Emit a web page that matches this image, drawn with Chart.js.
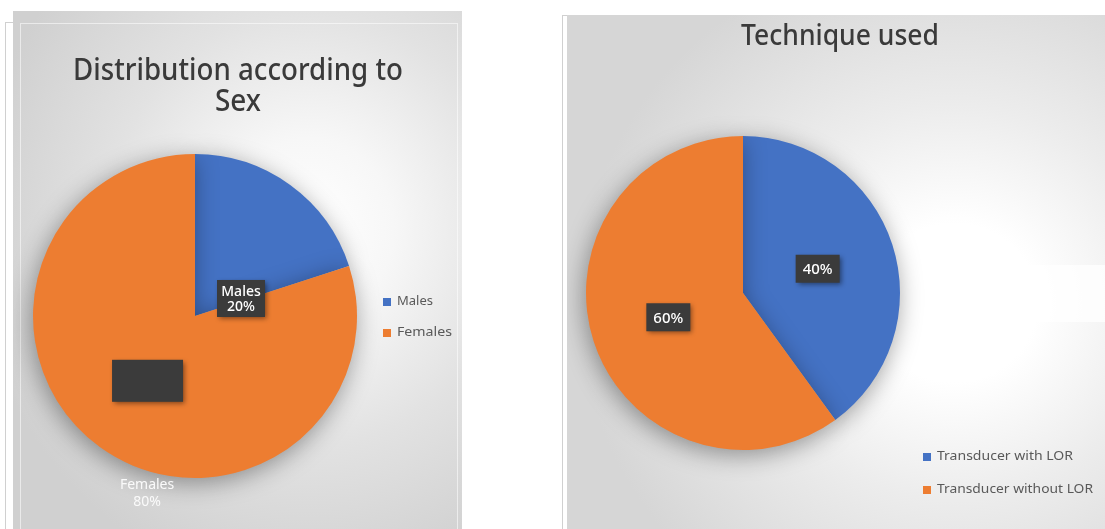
<!DOCTYPE html>
<html>
<head>
<meta charset="utf-8">
<script src="https://cdn.jsdelivr.net/npm/chart.js@4"></script>
<style>
  html, body { margin:0; padding:0; background:#ffffff; width:1105px; height:529px; overflow:hidden; }
  .panel { position:absolute; }
  #p1 { left:13px; top:11px; width:449px; height:518px;
        background: radial-gradient(ellipse 75% 70% at 66% 42%, #ffffff 0%, #f7f7f7 25%, #e2e2e2 60%, #d0d0d0 100%); }
  #p2 { left:567px; top:15px; width:538px; height:514px;
        background: radial-gradient(ellipse 70% 70% at 72% 56%, #ffffff 0%, #ffffff 22%, #ececec 55%, #d6d6d6 100%); }
  #band { position:absolute; left:918px; top:265px; width:187px; height:57px; background:rgba(255,255,255,0.75); }
  .line { position:absolute; background:#d0d0d0; }
  .inner { position:absolute; border:1px solid rgba(255,255,255,0.55); }
  canvas { position:absolute; }
</style>
</head>
<body>
<div class="line" style="left:5px;top:22px;width:1px;height:507px;"></div>
<div class="line" style="left:5px;top:22px;width:8px;height:1px;"></div>
<div class="line" style="left:562px;top:15px;width:1px;height:514px;"></div>
<div class="line" style="left:562px;top:15px;width:5px;height:1px;"></div>
<div class="panel" id="p1"></div>
<div class="inner" style="left:20px;top:23px;width:436px;height:510px;"></div>
<div class="panel" id="p2"></div>
<div id="band"></div>
<canvas id="c1" width="449" height="518" style="left:13px;top:11px;"></canvas>
<canvas id="c2" width="538" height="514" style="left:567px;top:15px;"></canvas>
<script>
// ---- data ----
const sexLabels = ['Males', 'Females'];
const sexValues = [20, 80];
const sexTitle = ['Distribution according to', 'Sex'];
const techLabels = ['Transducer with LOR', 'Transducer without LOR'];
const techValues = [40, 60];
const techTitle = ['Technique used'];
const sliceColors = ['#4472C4', '#ED7D31'];

function pct(values, i) {
  const t = values.reduce((a, b) => a + b, 0);
  return Math.round(values[i] / t * 100) + '%';
}

function fitText(ctx, text, cx, y, targetW, font, color) {
  ctx.save();
  ctx.font = font;
  ctx.fillStyle = color;
  ctx.textAlign = 'center';
  ctx.textBaseline = 'alphabetic';
  const w = ctx.measureText(text).width;
  ctx.translate(cx, y);
  if (targetW && w) ctx.scale(targetW / w, 1);
  ctx.fillText(text, 0, 0);
  ctx.restore();
}

function shadowBox(ctx, x, y, w, h) {
  ctx.save();
  ctx.shadowColor = 'rgba(0,0,0,0.45)';
  ctx.shadowBlur = 5;
  ctx.shadowOffsetX = 2;
  ctx.shadowOffsetY = 2;
  ctx.fillStyle = '#3b3b3b';
  ctx.fillRect(x, y, w, h);
  ctx.restore();
}

const shadowPlugin = {
  id: 'pieShadow',
  beforeDatasetsDraw(chart) {
    const ctx = chart.ctx;
    ctx.save();
    ctx.shadowColor = 'rgba(0,0,0,0.38)';
    ctx.shadowBlur = 24;
    ctx.shadowOffsetX = -2;
    ctx.shadowOffsetY = 5;
  },
  afterDatasetsDraw(chart) { chart.ctx.restore(); }
};

function legend(ctx, labels, x, y0, gap, targetWs) {
  labels.forEach((lab, i) => {
    const y = y0 + i * gap;
    ctx.save();
    ctx.fillStyle = sliceColors[i];
    ctx.fillRect(x, y - 7, 8, 8);
    ctx.font = '13px "Noto Sans"';
    ctx.fillStyle = '#595959';
    ctx.textAlign = 'left';
    const w = ctx.measureText(lab).width;
    ctx.translate(x + 14, y);
    ctx.scale(targetWs[i] / w, 1);
    ctx.fillText(lab, 0, 0);
    ctx.restore();
  });
}

// ---- left chart ----
const OX1 = 13, OY1 = 11;
const sexDecor = {
  id: 'sexDecor',
  afterDraw(chart) {
    const ctx = chart.ctx;
    const arc = chart.getDatasetMeta(0).data[0];
    const cx = arc.x, cy = arc.y, r = arc.outerRadius;
    ctx.save();
    ctx.translate(-OX1, -OY1);
    fitText(ctx, sexTitle[0], 238, 80, 330, '500 31px "Noto Sans"', '#3a3a3a');
    fitText(ctx, sexTitle[1], 238, 111, 46, '500 31px "Noto Sans"', '#3a3a3a');
    ctx.restore();
    // Males label box
    const mx = cx + r * 0.284, my = cy - r * 0.105;
    shadowBox(ctx, mx - 24, my - 19, 48, 37);
    ctx.save();
    ctx.font = '500 14px "Noto Sans"';
    ctx.fillStyle = '#ffffff';
    ctx.textAlign = 'center';
    ctx.fillText(sexLabels[0], mx, my - 3);
    ctx.fillText(pct(sexValues, 0), mx, my + 12);
    ctx.restore();
    // empty dark box on Females slice
    const fx = cx - r * 0.296, fy = cy + r * 0.40;
    shadowBox(ctx, fx - 35, fy - 21, 71, 42);
    // Females label below pie
    ctx.save();
    ctx.font = '14px "Noto Sans"';
    ctx.fillStyle = '#fafafa';
    ctx.textAlign = 'center';
    ctx.fillText(sexLabels[1], fx, cy + r + 11);
    ctx.fillText(pct(sexValues, 1), fx, cy + r + 28);
    ctx.restore();
    // legend
    ctx.save();
    ctx.translate(-OX1, -OY1);
    legend(ctx, sexLabels, 383, 305, 31, [36, 55]);
    ctx.restore();
  }
};

new Chart(document.getElementById('c1'), {
  type: 'pie',
  data: { labels: sexLabels, datasets: [{ data: sexValues, backgroundColor: sliceColors, borderWidth: 0 }] },
  options: {
    responsive: false, animation: false,
    layout: { padding: { left: 20, right: 105, top: 143, bottom: 51 } },
    plugins: { legend: { display: false }, tooltip: { enabled: false }, title: { display: false } }
  },
  plugins: [shadowPlugin, sexDecor]
});

// ---- right chart ----
const OX2 = 567, OY2 = 15;
const techDecor = {
  id: 'techDecor',
  afterDraw(chart) {
    const ctx = chart.ctx;
    const meta = chart.getDatasetMeta(0);
    ctx.save();
    ctx.translate(-OX2, -OY2);
    fitText(ctx, techTitle[0], 840, 45, 198, '500 28px "Noto Sans"', '#3a3a3a');
    ctx.restore();
    meta.data.forEach((arc, i) => {
      const mid = (arc.startAngle + arc.endAngle) / 2;
      const lx = arc.x + Math.cos(mid) * arc.outerRadius * 0.5;
      const ly = arc.y + Math.sin(mid) * arc.outerRadius * 0.5;
      shadowBox(ctx, lx - 22, ly - 14, 44, 28);
      ctx.save();
      ctx.font = '500 15px "Noto Sans"';
      ctx.fillStyle = '#ffffff';
      ctx.textAlign = 'center';
      ctx.textBaseline = 'middle';
      ctx.fillText(pct(techValues, i), lx, ly + 1);
      ctx.restore();
    });
    ctx.save();
    ctx.translate(-OX2, -OY2);
    legend(ctx, techLabels, 923, 460, 33, [136, 156]);
    ctx.restore();
  }
};

new Chart(document.getElementById('c2'), {
  type: 'pie',
  data: { labels: techLabels, datasets: [{ data: techValues, backgroundColor: sliceColors, borderWidth: 0 }] },
  options: {
    responsive: false, animation: false,
    layout: { padding: { left: 19, right: 205, top: 121, bottom: 79 } },
    plugins: { legend: { display: false }, tooltip: { enabled: false }, title: { display: false } }
  },
  plugins: [shadowPlugin, techDecor]
});
</script>
</body>
</html>
